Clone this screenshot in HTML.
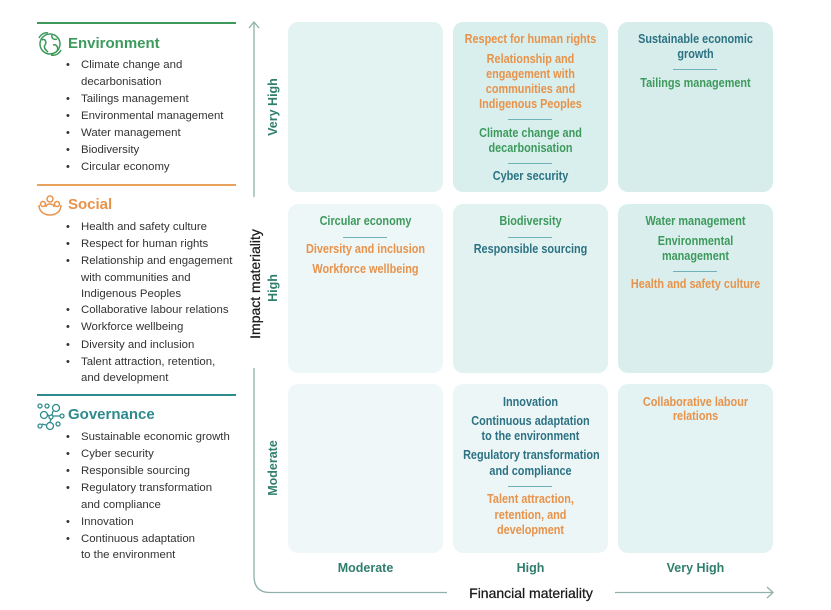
<!DOCTYPE html>
<html>
<head>
<meta charset="utf-8">
<style>
  html,body{margin:0;padding:0;background:#fff;}
  body{width:831px;height:610px;position:relative;overflow:hidden;font-family:"Liberation Sans",sans-serif;}
  .abs{position:absolute;}
  .hd{position:absolute;left:68px;font-weight:bold;font-size:15px;line-height:18px;white-space:nowrap;}
  .li{position:absolute;left:81px;font-size:11.4px;line-height:14px;color:#333;white-space:nowrap;}
  .bu{position:absolute;left:66px;font-size:11px;line-height:14px;color:#333;}
  .panel{position:absolute;width:155px;border-radius:10px;}
  .t{position:absolute;width:155px;text-align:center;font-weight:bold;font-size:12.5px;line-height:14px;white-space:nowrap;transform:scaleX(0.87);transform-origin:center center;}
  .o{color:#e8924a;}
  .g{color:#3d9a5c;}
  .b{color:#2c7283;}
  .dv{position:absolute;width:44px;height:1px;background:#6fb3b8;}
  .ax{position:absolute;font-weight:bold;font-size:12.5px;color:#2f7e6e;white-space:nowrap;line-height:14px;}
  .rot{transform:rotate(-90deg);transform-origin:center center;text-align:center;}
</style>
</head>
<body>

<!-- Left legend lines -->
<div class="abs" style="left:37px;top:22px;width:199px;height:1.5px;background:#3d9a5c;"></div>
<div class="abs" style="left:37px;top:184px;width:199px;height:1.5px;background:#e8a25e;"></div>
<div class="abs" style="left:37px;top:394px;width:199px;height:1.5px;background:#2e8a8c;"></div>

<!-- Icons -->
<svg class="abs" style="left:36px;top:30px" width="28" height="28" viewBox="0 0 28 28" fill="none" stroke="#3d9a5c" stroke-width="1.5">
  <circle cx="14" cy="14" r="10"/>
  <path d="M6 10 C9 8 11 12 9 15 C7 18 10 20 12 22"/>
  <path d="M16 5 C15 9 19 10 21 9"/>
  <path d="M17 15 C20 14 23 17 21 21"/>
  <path d="M3 8 C5 4 9 2 12 3"/>
  <path d="M25 20 C23 24 19 26 15 25"/>
</svg>
<svg class="abs" style="left:36px;top:193px" width="28" height="24" viewBox="0 0 28 24" fill="none" stroke="#e8924a" stroke-width="1.5">
  <circle cx="14" cy="6" r="3"/>
  <circle cx="7" cy="11" r="2.5"/>
  <circle cx="21" cy="11" r="2.5"/>
  <path d="M10 14 C10 10 18 10 18 14"/>
  <path d="M3 12 C3 20 10 22 14 22 C18 22 25 20 25 12"/>
</svg>
<svg class="abs" style="left:36px;top:402px" width="30" height="30" viewBox="0 0 30 30" fill="none" stroke="#2e8a8c" stroke-width="1.3">
  <circle cx="4" cy="4" r="2"/>
  <circle cx="11" cy="4" r="2"/>
  <circle cx="20" cy="6" r="3.5"/>
  <circle cx="8" cy="13" r="3.5"/>
  <circle cx="15" cy="15" r="2"/>
  <circle cx="26" cy="14" r="2"/>
  <circle cx="4" cy="24" r="2"/>
  <circle cx="14" cy="24" r="3.5"/>
  <circle cx="22" cy="22" r="2"/>
  <path d="M11 12 L13 14 M17 14 L24 14 M15 17 L14 20 M17 9 L16 13 M6 22 L10 23"/>
</svg>

<!-- Headings -->
<div class="hd" style="top:35px;color:#3d9a5c;">Environment</div>
<div class="hd" style="top:196px;color:#e8924a;">Social</div>
<div class="hd" style="top:406px;color:#2e8a8c;">Governance</div>

<!-- Environment list -->
<div class="bu" style="top:58px">•</div><div class="li" style="top:58px">Climate change and</div>
<div class="li" style="top:75px">decarbonisation</div>
<div class="bu" style="top:92px">•</div><div class="li" style="top:92px">Tailings management</div>
<div class="bu" style="top:109px">•</div><div class="li" style="top:109px">Environmental management</div>
<div class="bu" style="top:126px">•</div><div class="li" style="top:126px">Water management</div>
<div class="bu" style="top:143px">•</div><div class="li" style="top:143px">Biodiversity</div>
<div class="bu" style="top:160px">•</div><div class="li" style="top:160px">Circular economy</div>

<!-- Social list -->
<div class="bu" style="top:220px">•</div><div class="li" style="top:220px">Health and safety culture</div>
<div class="bu" style="top:237px">•</div><div class="li" style="top:237px">Respect for human rights</div>
<div class="bu" style="top:254px">•</div><div class="li" style="top:254px">Relationship and engagement</div>
<div class="li" style="top:271px">with communities and</div>
<div class="li" style="top:287px">Indigenous Peoples</div>
<div class="bu" style="top:303px">•</div><div class="li" style="top:303px">Collaborative labour relations</div>
<div class="bu" style="top:320px">•</div><div class="li" style="top:320px">Workforce wellbeing</div>
<div class="bu" style="top:338px">•</div><div class="li" style="top:338px">Diversity and inclusion</div>
<div class="bu" style="top:355px">•</div><div class="li" style="top:355px">Talent attraction, retention,</div>
<div class="li" style="top:371px">and development</div>

<!-- Governance list -->
<div class="bu" style="top:430px">•</div><div class="li" style="top:430px">Sustainable economic growth</div>
<div class="bu" style="top:447px">•</div><div class="li" style="top:447px">Cyber security</div>
<div class="bu" style="top:464px">•</div><div class="li" style="top:464px">Responsible sourcing</div>
<div class="bu" style="top:481px">•</div><div class="li" style="top:481px">Regulatory transformation</div>
<div class="li" style="top:498px">and compliance</div>
<div class="bu" style="top:515px">•</div><div class="li" style="top:515px">Innovation</div>
<div class="bu" style="top:532px">•</div><div class="li" style="top:532px">Continuous adaptation</div>
<div class="li" style="top:548px">to the environment</div>

<!-- Panels -->
<div class="panel" style="left:288px;top:22px;height:170px;background:#e3f3f2;"></div>
<div class="panel" style="left:453px;top:22px;height:170px;background:#d9efed;"></div>
<div class="panel" style="left:618px;top:22px;height:170px;background:#d7edeb;"></div>
<div class="panel" style="left:288px;top:204px;height:169px;background:#eef7f8;"></div>
<div class="panel" style="left:453px;top:204px;height:169px;background:#e2f2f1;"></div>
<div class="panel" style="left:618px;top:204px;height:169px;background:#daefed;"></div>
<div class="panel" style="left:288px;top:384px;height:169px;background:#eff7f9;"></div>
<div class="panel" style="left:453px;top:384px;height:169px;background:#ecf6f7;"></div>
<div class="panel" style="left:618px;top:384px;height:169px;background:#e3f3f3;"></div>

<!-- Row1 col2 -->
<div class="t o" style="left:453px;top:32px">Respect for human rights</div>
<div class="t o" style="left:453px;top:52px">Relationship and</div>
<div class="t o" style="left:453px;top:67px">engagement with</div>
<div class="t o" style="left:453px;top:82px">communities and</div>
<div class="t o" style="left:453px;top:97px">Indigenous Peoples</div>
<div class="dv" style="left:508px;top:119px"></div>
<div class="t g" style="left:453px;top:126px">Climate change and</div>
<div class="t g" style="left:453px;top:141px">decarbonisation</div>
<div class="dv" style="left:508px;top:163px"></div>
<div class="t b" style="left:453px;top:169px">Cyber security</div>

<!-- Row1 col3 -->
<div class="t b" style="left:618px;top:32px">Sustainable economic</div>
<div class="t b" style="left:618px;top:47px">growth</div>
<div class="dv" style="left:673px;top:69px"></div>
<div class="t g" style="left:618px;top:76px">Tailings management</div>

<!-- Row2 col1 -->
<div class="t g" style="left:288px;top:214px">Circular economy</div>
<div class="dv" style="left:343px;top:237px"></div>
<div class="t o" style="left:288px;top:242px">Diversity and inclusion</div>
<div class="t o" style="left:288px;top:262px">Workforce wellbeing</div>

<!-- Row2 col2 -->
<div class="t g" style="left:453px;top:214px">Biodiversity</div>
<div class="dv" style="left:508px;top:237px"></div>
<div class="t b" style="left:453px;top:242px">Responsible sourcing</div>

<!-- Row2 col3 -->
<div class="t g" style="left:618px;top:214px">Water management</div>
<div class="t g" style="left:618px;top:234px">Environmental</div>
<div class="t g" style="left:618px;top:249px">management</div>
<div class="dv" style="left:673px;top:271px"></div>
<div class="t o" style="left:618px;top:277px">Health and safety culture</div>

<!-- Row3 col2 -->
<div class="t b" style="left:453px;top:395px">Innovation</div>
<div class="t b" style="left:453px;top:414px">Continuous adaptation</div>
<div class="t b" style="left:453px;top:429px">to the environment</div>
<div class="t b" style="left:453px;top:448px">Regulatory transformation</div>
<div class="t b" style="left:453px;top:464px">and compliance</div>
<div class="dv" style="left:508px;top:486px"></div>
<div class="t o" style="left:453px;top:492px">Talent attraction,</div>
<div class="t o" style="left:453px;top:508px">retention, and</div>
<div class="t o" style="left:453px;top:523px">development</div>

<!-- Row3 col3 -->
<div class="t o" style="left:618px;top:395px">Collaborative labour</div>
<div class="t o" style="left:618px;top:409px">relations</div>

<!-- Axes -->
<svg class="abs" style="left:0;top:0" width="831" height="610" viewBox="0 0 831 610" fill="none" stroke="#8fb0ac" stroke-width="1.3">
  <path d="M254 22 L254 197"/>
  <path d="M249 28 L254 22 L259 28"/>
  <path d="M254 368 L254 576 Q254 592.5 270 592.5 L447 592.5"/>
  <path d="M615 592.5 L773 592.5"/>
  <path d="M767 587 L773 592.5 L767 598"/>
</svg>

<!-- Row labels -->
<div class="ax rot" style="left:243px;top:100px;width:60px;">Very High</div>
<div class="ax rot" style="left:243px;top:281px;width:60px;">High</div>
<div class="ax rot" style="left:243px;top:461px;width:60px;">Moderate</div>

<!-- Impact materiality -->
<div class="abs rot" style="left:195px;top:276px;width:120px;font-size:14px;line-height:16px;color:#1a1a1a;white-space:nowrap;-webkit-text-stroke:0.25px #1a1a1a;">Impact materiality</div>

<!-- Column labels -->
<div class="ax" style="left:288px;top:561px;width:155px;text-align:center;">Moderate</div>
<div class="ax" style="left:453px;top:561px;width:155px;text-align:center;">High</div>
<div class="ax" style="left:618px;top:561px;width:155px;text-align:center;">Very High</div>

<!-- Financial materiality -->
<div class="abs" style="left:450px;top:585px;width:162px;text-align:center;font-size:14px;line-height:16px;color:#1a1a1a;white-space:nowrap;-webkit-text-stroke:0.25px #1a1a1a;">Financial materiality</div>

</body>
</html>
